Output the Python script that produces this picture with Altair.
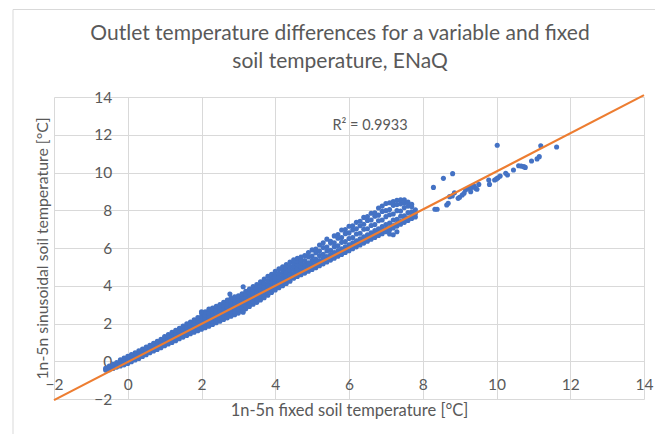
import altair as alt
import pandas as pd

# ---------------- data ----------------
# dense band: (fixed soil temperature x, [sinusoidal soil temperature y values])
band_dense = [
    (-0.6, [-0.47, -0.38]),
    (-0.5, [-0.45, -0.35, -0.26]),
    (-0.4, [-0.38, -0.27, -0.16]),
    (-0.3, [-0.31, -0.19, -0.07]),
    (-0.2, [-0.25, -0.12, 0.0, 0.08]),
    (-0.1, [-0.19, -0.06, 0.06, 0.17]),
    (0.0, [-0.12, 0.0, 0.12, 0.26]),
    (0.1, [-0.03, 0.09, 0.21, 0.35]),
    (0.2, [0.07, 0.19, 0.31, 0.45]),
    (0.3, [0.15, 0.28, 0.40, 0.55]),
    (0.4, [0.25, 0.37, 0.49, 0.65]),
    (0.5, [0.35, 0.47, 0.59, 0.75]),
    (0.6, [0.45, 0.57, 0.69, 0.85]),
    (0.7, [0.54, 0.66, 0.79, 0.95]),
    (0.8, [0.62, 0.75, 0.89, 1.06]),
    (0.9, [0.72, 0.85, 0.99, 1.16]),
    (1.0, [0.82, 0.95, 1.09, 1.22, 1.31]),
    (1.1, [0.91, 1.04, 1.18, 1.31, 1.41]),
    (1.2, [1.00, 1.13, 1.27, 1.40, 1.53]),
    (1.3, [1.09, 1.23, 1.37, 1.50, 1.64]),
    (1.4, [1.19, 1.33, 1.47, 1.60, 1.75]),
    (1.5, [1.28, 1.42, 1.56, 1.70, 1.86]),
    (1.6, [1.37, 1.51, 1.66, 1.81, 1.98]),
    (1.7, [1.46, 1.60, 1.75, 1.90, 2.08]),
    (1.8, [1.54, 1.69, 1.84, 2.00, 2.19]),
    (1.9, [1.62, 1.78, 1.94, 2.10, 2.31]),
    (2.0, [1.70, 1.86, 2.03, 2.20, 2.37, 2.55]),
    (2.1, [1.78, 1.95, 2.12, 2.29, 2.46, 2.62]),
    (2.2, [1.86, 2.03, 2.21, 2.39, 2.57, 2.76]),
    (2.3, [1.95, 2.12, 2.30, 2.48, 2.65, 2.82]),
    (2.4, [2.04, 2.21, 2.39, 2.57, 2.74, 2.91]),
    (2.5, [2.12, 2.30, 2.48, 2.66, 2.84, 3.01]),
    (2.6, [2.21, 2.39, 2.57, 2.76, 2.94, 3.12]),
    (2.7, [2.30, 2.48, 2.67, 2.86, 3.05, 3.24]),
    (2.8, [2.39, 2.57, 2.76, 2.95, 3.14, 3.35]),
    (2.9, [2.47, 2.66, 2.86, 3.05, 3.23, 3.41]),
    (3.0, [2.55, 2.75, 2.95, 3.14, 3.32, 3.47]),
    (3.1, [2.65, 2.85, 3.05, 3.24, 3.42, 3.57]),
    (3.2, [2.78, 2.97, 3.16, 3.35, 3.54, 3.71]),
    (3.3, [2.90, 3.08, 3.27, 3.46, 3.64, 3.82]),
    (3.4, [3.02, 3.20, 3.39, 3.58, 3.76, 3.96]),
    (3.5, [3.12, 3.31, 3.50, 3.69, 3.87, 4.07]),
    (3.6, [3.25, 3.44, 3.62, 3.81, 4.00, 4.21]),
    (3.7, [3.37, 3.56, 3.75, 3.94, 4.13, 4.35]),
    (3.8, [3.50, 3.69, 3.88, 4.07, 4.27, 4.50]),
    (3.9, [3.64, 3.82, 4.01, 4.20, 4.39, 4.61]),
    (4.0, [3.78, 3.96, 4.15, 4.34, 4.54, 4.76]),
    (4.1, [3.90, 4.08, 4.27, 4.46, 4.66, 4.90]),
    (4.2, [4.00, 4.19, 4.39, 4.59, 4.79, 5.01]),
    (4.3, [4.12, 4.31, 4.51, 4.71, 4.91, 5.12]),
    (4.4, [4.24, 4.43, 4.63, 4.83, 5.03, 5.26]),
]

# looser part of the band
band_loose = [
    (4.5, [4.40, 4.52, 4.65, 4.86, 5.02, 5.18, 5.38]),
    (4.6, [4.49, 4.61, 4.75, 4.92, 5.12, 5.30, 5.46]),
    (4.7, [4.58, 4.70, 4.84, 5.01, 5.20, 5.36, 5.52]),
    (4.8, [4.67, 4.80, 4.94, 5.12, 5.34, 5.60]),
    (4.9, [4.77, 4.90, 5.04, 5.21, 5.52, 5.76]),
    (5.0, [4.86, 4.99, 5.13, 5.35, 5.58, 5.90]),
    (5.1, [4.96, 5.09, 5.23, 5.42, 5.74, 5.95]),
    (5.2, [5.06, 5.19, 5.34, 5.60, 5.84, 6.16]),
    (5.3, [5.16, 5.29, 5.44, 5.66, 6.02, 6.28]),
    (5.4, [5.26, 5.39, 5.55, 5.84, 6.05, 6.47]),
    (5.5, [5.36, 5.49, 5.65, 5.88, 6.26, 6.36]),
    (5.6, [5.46, 5.59, 5.76, 6.06, 6.28, 6.64]),
    (5.7, [5.56, 5.69, 5.86, 6.12, 6.52, 6.71]),
    (5.8, [5.66, 5.79, 5.96, 6.30, 6.55, 6.95]),
    (5.9, [5.76, 5.89, 6.07, 6.34, 6.76, 6.98]),
    (6.0, [5.86, 5.99, 6.17, 6.50, 6.80, 7.15]),
    (6.1, [5.96, 6.09, 6.28, 6.56, 6.96, 7.18]),
    (6.2, [6.06, 6.19, 6.38, 6.74, 7.02, 7.36]),
    (6.3, [6.16, 6.29, 6.49, 6.78, 7.18, 7.42]),
    (6.4, [6.26, 6.39, 6.60, 6.99, 7.26, 7.62]),
    (6.5, [6.36, 6.49, 6.70, 7.02, 7.46, 7.66]),
    (6.6, [6.46, 6.59, 6.81, 7.19, 7.48, 7.84]),
    (6.7, [6.56, 6.69, 6.92, 7.24, 7.68, 7.86]),
    (6.8, [6.66, 6.79, 7.02, 7.44, 7.74, 8.12]),
    (6.9, [6.76, 6.89, 7.13, 7.48, 7.94, 8.22]),
    (7.0, [6.86, 6.99, 7.24, 7.66, 7.98, 8.36]),
    (7.1, [6.74, 6.96, 7.09, 7.32, 7.76, 8.04, 8.40]),
    (7.2, [6.70, 7.06, 7.19, 7.48, 7.80, 8.26, 8.46]),
    (7.3, [6.86, 7.16, 7.30, 7.52, 7.98, 8.30, 8.53]),
    (7.4, [7.26, 7.40, 7.68, 7.96, 8.34, 8.56]),
    (7.5, [7.36, 7.50, 7.70, 8.14, 8.40, 8.55]),
    (7.6, [7.46, 7.60, 7.88, 8.22, 8.44]),
    (7.7, [7.56, 7.70, 7.92, 8.20, 8.32]),
    (7.8, [7.64, 7.82, 8.02]),
]

# single points outside the band
single_x = [2.77, 3.13, 3.13, 3.13, 2.0,
            8.29, 8.56, 8.81, 10.02, 11.20, 11.63, 8.33, 8.39, 8.65, 8.69,
            8.73, 8.80, 8.86, 8.96, 9.00, 9.07, 9.12, 9.16, 9.25, 9.30,
            9.32, 9.39, 9.43, 9.47, 9.52, 9.79, 9.81, 9.95, 10.00, 10.04,
            10.10, 10.25, 10.30, 10.46, 10.60, 10.67, 10.74, 10.78, 10.95,
            11.10, 11.16]
single_y = [3.56, 2.70, 2.60, 3.95, 2.62,
            9.21, 9.69, 9.94, 11.44, 11.42, 11.35, 8.05, 8.05, 8.28, 8.37,
            8.72, 8.76, 8.93, 8.63, 8.69, 8.81, 8.90, 9.07, 9.16, 8.98,
            9.21, 9.28, 9.16, 9.11, 9.37, 9.60, 9.37, 9.60, 9.66, 9.72,
            9.81, 9.96, 9.87, 10.13, 10.36, 10.34, 10.31, 10.27, 10.61,
            10.72, 10.84]

# linear trendline end points
trend_x = [-2, 14]
trend_y = [-2.06, 14.10]

r2_text = ["R² = 0.9933"]
r2_x = [6.57]
r2_y = [12.48]

ticks = [-2, 0, 2, 4, 6, 8, 10, 12, 14]

title_lines = ["Outlet temperature differences for a variable and fixed",
               "soil temperature, ENaQ"]
x_title = "1n-5n fixed soil temperature [°C]"
y_title = "1n-5n sinusoidal soil temperature [°C]"

# ---------------- build tables ----------------
rows = []
for xv, ys in band_dense + band_loose:
    for yv in ys:
        rows.append({"x": xv, "y": yv})
for xv, yv in zip(single_x, single_y):
    rows.append({"x": xv, "y": yv})
pts = pd.DataFrame(rows)
trend = pd.DataFrame({"x": trend_x, "y": trend_y})
r2 = pd.DataFrame({"x": r2_x, "y": r2_y, "t": r2_text})

# ---------------- style ----------------
FONT = "Lato"
GRAY = "#595959"
GRID = "#d9d9d9"
BLUE = "#4472C4"
ORANGE = "#ED7D31"
W, H = 590, 302
XOFF = -73.75   # y axis sits at x = 0
YOFF = -37.75   # x axis sits at y = 0
LABEL_SIZE = 15.5

xscale = alt.Scale(domain=[-2, 14], nice=False, zero=False)
yscale = alt.Scale(domain=[-2, 14], nice=False, zero=False)

xaxis = alt.Axis(values=ticks, title=x_title, offset=YOFF, domain=False,
                 ticks=False, tickSize=0, grid=True, gridColor=GRID,
                 gridWidth=1, labelFont=FONT, labelFontSize=LABEL_SIZE,
                 labelColor=GRAY, labelBaseline="middle", labelPadding=23.5,
                 labelFlush=False, labelOverlap=False,
                 titleFont=FONT, titleFontSize=16.5, titleColor=GRAY,
                 titleFontWeight="normal", titleBaseline="middle",
                 titleY=49.5)
yaxis = alt.Axis(values=ticks, title=y_title, offset=XOFF, domain=False,
                 ticks=False, tickSize=0, grid=True, gridColor=GRID,
                 gridWidth=1, labelFont=FONT, labelFontSize=LABEL_SIZE,
                 labelColor=GRAY, labelPadding=16, labelFlush=False,
                 labelOverlap=False,
                 titleFont=FONT, titleFontSize=15.8, titleColor=GRAY,
                 titleFontWeight="normal", titleBaseline="middle",
                 titleX=-85)

X = alt.X("x:Q", scale=xscale, axis=xaxis)
Y = alt.Y("y:Q", scale=yscale, axis=yaxis)

points = alt.Chart(pts).mark_circle(size=26, color=BLUE, opacity=1).encode(
    x=X, y=Y)

line = alt.Chart(trend).mark_line(color=ORANGE, strokeWidth=2.2).encode(
    x=X, y=Y)

label = alt.Chart(r2).mark_text(font=FONT, fontSize=14.5, color=GRAY,
                                align="center", baseline="middle").encode(
    x=X, y=Y, text="t:N")

one = alt.Data(values=[{"a": 0}])
frame_v = alt.Chart(one).mark_rule(color=GRID, strokeWidth=1).encode(
    x=alt.value(-41), y=alt.value(-87.5), y2=alt.value(345))
frame_h = alt.Chart(one).mark_rule(color=GRID, strokeWidth=1).encode(
    x=alt.value(-41), x2=alt.value(620), y=alt.value(-87.5))

chart = alt.layer(frame_v, frame_h, points, line, label).properties(
    width=W, height=H,
    autosize=alt.AutoSizeParams(type="none"),
    padding={"left": 54, "top": 97, "right": 11, "bottom": 35},
    title=alt.TitleParams(text=title_lines, font=FONT, fontSize=21,
                          fontWeight="normal", color=GRAY, anchor="middle",
                          lineHeight=27.5, dx=-9, offset=0, dy=62.5),
).configure_view(stroke=None)

chart.save("out.html", embed_options={"renderer": "svg", "actions": False})
